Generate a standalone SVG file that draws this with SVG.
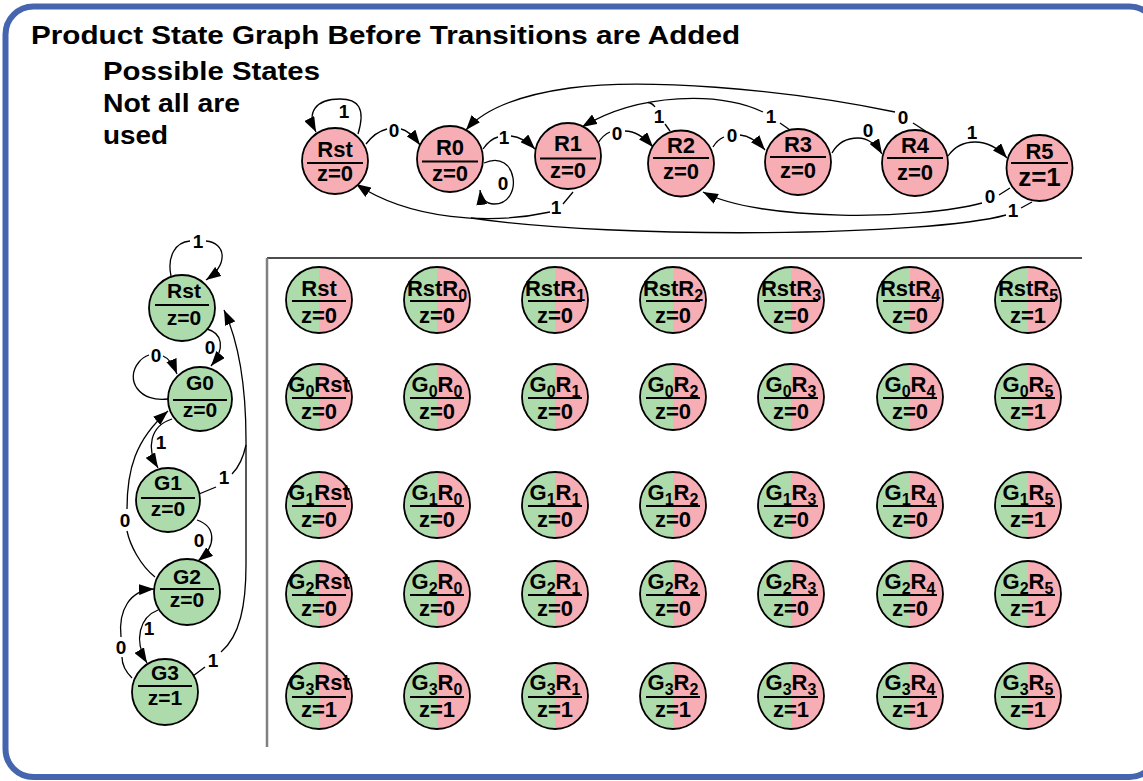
<svg xmlns="http://www.w3.org/2000/svg" width="1143" height="781" viewBox="0 0 1143 781">
  <defs>
    <marker id="ah" viewBox="0 0 15 11" refX="15" refY="5.5" markerWidth="15" markerHeight="11" markerUnits="userSpaceOnUse" orient="auto">
      <path d="M0,0 L15,5.5 L0,11 z" fill="#000"/>
    </marker>
    <linearGradient id="split" x1="0" y1="0" x2="1" y2="0">
      <stop offset="0.5" stop-color="#AEDBAB"/>
      <stop offset="0.5" stop-color="#F6AEB4"/>
    </linearGradient>
    <style>
      text { font-family: "Liberation Sans", Arial, Helvetica, sans-serif; font-weight: bold; fill: #000; }
      .hd { font-size: 25px; }
      .nl { font-size: 22px; text-anchor: middle; }
      .gl { font-size: 21px; text-anchor: middle; }
      .pl { font-size: 22px; text-anchor: middle; }
      .pz { font-size: 22px; text-anchor: middle; }
      .sb { font-size: 16px; }
      .el { font-size: 19px; text-anchor: middle; }
      .red { fill: #F6AEB4; stroke: #000; stroke-width: 1.8; }
      .grn { fill: #AEDBAB; stroke: #000; stroke-width: 1.8; }
      .prd { fill: url(#split); stroke: #000; stroke-width: 1.8; }
      .bar { stroke: #000; stroke-width: 2; }
      .edge { fill: none; stroke: #000; stroke-width: 1.3; }
      .arr { marker-end: url(#ah); }
    </style>
  </defs>

  <rect x="0" y="0" width="1143" height="781" fill="#fff"/>
  <!-- slide frame -->
  <rect x="5.5" y="6.5" width="1152" height="770.5" rx="28" fill="none" stroke="#4565AF" stroke-width="6"/>

  <!-- headings -->
  <text class="hd" x="31" y="44" textLength="709" lengthAdjust="spacingAndGlyphs">Product State Graph Before Transitions are Added</text>
  <text class="hd" x="103" y="80" textLength="217" lengthAdjust="spacingAndGlyphs">Possible States</text>
  <text class="hd" x="103" y="112" textLength="137" lengthAdjust="spacingAndGlyphs">Not all are</text>
  <text class="hd" x="103" y="144" textLength="65" lengthAdjust="spacingAndGlyphs">used</text>

  <!-- grid axes -->
  <line x1="267" y1="258" x2="1082" y2="258" stroke="#111" stroke-width="1.6"/>
  <line x1="267" y1="258" x2="267" y2="747" stroke="#808080" stroke-width="2.5"/>

  <!-- connectors -->
  <g id="connectors">
    <!-- R machine -->
    <path class="edge arr" d="M358,134 C366,108 358,99 340,99 C316,99 306,112 316,132"/>
    <path class="edge" d="M366,144 Q375,132 387,129"/>
    <path class="edge arr" d="M401,129 C408,130 414,137 420,145"/>
    <path class="edge arr" d="M484,163 C518,148 524,204 494,204 C486,204 481,198 480,190"/>
    <path class="edge" d="M483,149 Q490,139 498,137"/>
    <path class="edge arr" d="M511,136 C520,137 528,142 535,149"/>
    <path class="edge" d="M573,192 L563,204"/>
    <path class="edge arr" d="M550,212 C490,225 410,220 356,184"/>
    <path class="edge" d="M598,143 Q603,135 610,132"/>
    <path class="edge arr" d="M625,131 C635,131 645,138 653,147"/>
    <path class="edge" d="M670,131 L665,124"/>
    <path class="edge" d="M655,107 C653,104 651,103 648,102.5"/>
    <path class="edge" d="M790,130 L780,123"/>
    <path class="edge arr" d="M763,112 C720,92 640,92 582,127"/>
    <path class="edge" d="M713,147 Q717,140 724,137"/>
    <path class="edge arr" d="M740,135 C750,136 758,142 765,150"/>
    <path class="edge arr" d="M832,153 C838,142 848,138 858,138 C867,138 876,144 882,154"/>
    <path class="edge arr" d="M948,156 C955,146 965,142 975,142 C988,142 998,148 1007,158"/>
    <path class="edge" d="M927,132 L913,123"/>
    <path class="edge arr" d="M895,112 C780,88 640,78 570,88 C520,95 485,108 466,130"/>
    <path class="edge" d="M1010,188 L999,195"/>
    <path class="edge arr" d="M982,203 C920,220 760,222 703,192"/>
    <path class="edge" d="M1032,202 L1021,208"/>
    <path class="edge" d="M1006,215 C930,236 620,240 471,218"/>

    <text class="el" x="344" y="118">1</text>
    <text class="el" x="394" y="137">0</text>
    <text class="el" x="503" y="190">0</text>
    <text class="el" x="504" y="144">1</text>
    <text class="el" x="556" y="214">1</text>
    <text class="el" x="617" y="140">0</text>
    <text class="el" x="659" y="123">1</text>
    <text class="el" x="732" y="142">0</text>
    <text class="el" x="771" y="123">1</text>
    <text class="el" x="868" y="137">0</text>
    <text class="el" x="903" y="124">0</text>
    <text class="el" x="972" y="139">1</text>
    <text class="el" x="990" y="203">0</text>
    <text class="el" x="1013" y="217">1</text>

    <!-- G machine -->
    <path class="edge" d="M171,276 C167,257 175,242 190,241"/>
    <path class="edge arr" d="M206,241 C226,243 229,264 206,280"/>
    <path class="edge arr" d="M207,329 C222,333 226,348 211,366"/>
    <path class="edge" d="M168,399 C140,403 124,380 139,362 C142,358 146,356 149,355"/>
    <path class="edge arr" d="M163,356 C168,358 173,364 177,374"/>
    <path class="edge arr" d="M172,419 C150,426 146,448 158,468"/>
    <path class="edge" d="M155,577 C140,565 130,545 127,531"/>
    <path class="edge arr" d="M127,509 C127,470 135,440 168,411"/>
    <path class="edge" d="M199,494 L216,487"/>
    <path class="edge" d="M232,474 C238,468 243,459 246,445"/>
    <path class="edge" d="M193,676 L205,667"/>
    <path class="edge arr" d="M221,652 C240,636 246,605 246,565 L246,440 C246,390 240,345 224,310"/>
    <path class="edge arr" d="M197,520 C215,526 218,545 198,561"/>
    <path class="edge arr" d="M158,610 C140,617 133,640 147,663"/>
    <path class="edge" d="M132,678 C126,672 122,665 122,657"/>
    <path class="edge arr" d="M121,637 C118,610 130,590 154,589"/>

    <text class="el" x="198" y="248">1</text>
    <text class="el" x="210" y="354">0</text>
    <text class="el" x="156" y="362">0</text>
    <text class="el" x="161" y="449">1</text>
    <text class="el" x="125" y="527">0</text>
    <text class="el" x="224" y="484">1</text>
    <text class="el" x="213" y="667">1</text>
    <text class="el" x="199" y="547">0</text>
    <text class="el" x="149" y="635">1</text>
    <text class="el" x="121" y="654">0</text>
  </g>

  <!-- R machine states -->
  <g id="r-rst"><circle class="red" cx="335" cy="161" r="33"/><line class="bar" x1="307" y1="163" x2="363" y2="163"/><text class="nl" x="335" y="156.5">Rst</text><text class="nl" x="335" y="181">z=0</text></g>
  <g id="r-0"><circle class="red" cx="450" cy="159" r="33"/><line class="bar" x1="422" y1="161.5" x2="478" y2="161.5"/><text class="nl" x="450" y="154.5">R0</text><text class="nl" x="450" y="180.5">z=0</text></g>
  <g id="r-1"><circle class="red" cx="568" cy="156" r="33"/><line class="bar" x1="540" y1="158.5" x2="596" y2="158.5"/><text class="nl" x="568" y="151">R1</text><text class="nl" x="568" y="178">z=0</text></g>
  <g id="r-2"><circle class="red" cx="681" cy="163.5" r="33"/><line class="bar" x1="653" y1="158" x2="709" y2="158"/><text class="nl" x="681" y="153">R2</text><text class="nl" x="681" y="179">z=0</text></g>
  <g id="r-3"><circle class="red" cx="798" cy="162" r="33"/><line class="bar" x1="770" y1="157" x2="826" y2="157"/><text class="nl" x="798" y="152">R3</text><text class="nl" x="798" y="178">z=0</text></g>
  <g id="r-4"><circle class="red" cx="915" cy="163" r="33"/><line class="bar" x1="887" y1="158" x2="943" y2="158"/><text class="nl" x="915" y="153">R4</text><text class="nl" x="915" y="180">z=0</text></g>
  <g id="r-5"><circle class="red" cx="1039.5" cy="168" r="33"/><line class="bar" x1="1011" y1="163" x2="1068" y2="163"/><text class="nl" x="1039.5" y="159">R5</text><text class="nl" x="1039.5" y="186" style="font-size:26px">z=1</text></g>

  <!-- G machine states -->
  <g id="g-rst"><circle class="grn" cx="182" cy="308" r="33"/><line class="bar" x1="155" y1="305" x2="209" y2="305"/><text class="gl" x="184" y="298">Rst</text><text class="gl" x="184" y="325">z=0</text></g>
  <g id="g-0"><circle class="grn" cx="200" cy="399" r="32"/><line class="bar" x1="173" y1="400" x2="227" y2="400"/><text class="gl" x="200" y="390">G0</text><text class="gl" x="200" y="417">z=0</text></g>
  <g id="g-1"><circle class="grn" cx="168" cy="500" r="32"/><line class="bar" x1="141" y1="498" x2="195" y2="498"/><text class="gl" x="168" y="490">G1</text><text class="gl" x="168" y="516">z=0</text></g>
  <g id="g-2"><circle class="grn" cx="187" cy="592" r="33"/><line class="bar" x1="160" y1="589" x2="214" y2="589"/><text class="gl" x="187" y="584">G2</text><text class="gl" x="187" y="607">z=0</text></g>
  <g id="g-3"><circle class="grn" cx="165" cy="692" r="33"/><line class="bar" x1="138" y1="686" x2="192" y2="686"/><text class="gl" x="165" y="680">G3</text><text class="gl" x="165" y="705">z=1</text></g>

  <!-- product states: row Rst -->
  <g id="p-rst-rst"><circle class="prd" cx="319" cy="300" r="33"/><line class="bar" x1="292" y1="301" x2="346" y2="301"/><text class="pl" x="319" y="296">Rst</text><text class="pz" x="319" y="323">z=0</text></g>
  <g id="p-rst-r0"><circle class="prd" cx="437" cy="300" r="33"/><line class="bar" x1="410" y1="301" x2="464" y2="301"/><text class="pl" x="437" y="296">RstR<tspan class="sb" dy="5">0</tspan></text><text class="pz" x="437" y="323">z=0</text></g>
  <g id="p-rst-r1"><circle class="prd" cx="555" cy="300" r="33"/><line class="bar" x1="528" y1="301" x2="582" y2="301"/><text class="pl" x="555" y="296">RstR<tspan class="sb" dy="5">1</tspan></text><text class="pz" x="555" y="323">z=0</text></g>
  <g id="p-rst-r2"><circle class="prd" cx="673" cy="300" r="33"/><line class="bar" x1="646" y1="301" x2="700" y2="301"/><text class="pl" x="673" y="296">RstR<tspan class="sb" dy="5">2</tspan></text><text class="pz" x="673" y="323">z=0</text></g>
  <g id="p-rst-r3"><circle class="prd" cx="791" cy="300" r="33"/><line class="bar" x1="764" y1="301" x2="818" y2="301"/><text class="pl" x="791" y="296">RstR<tspan class="sb" dy="5">3</tspan></text><text class="pz" x="791" y="323">z=0</text></g>
  <g id="p-rst-r4"><circle class="prd" cx="910" cy="300" r="33"/><line class="bar" x1="883" y1="301" x2="937" y2="301"/><text class="pl" x="910" y="296">RstR<tspan class="sb" dy="5">4</tspan></text><text class="pz" x="910" y="323">z=0</text></g>
  <g id="p-rst-r5"><circle class="prd" cx="1028" cy="300" r="33"/><line class="bar" x1="1001" y1="301" x2="1055" y2="301"/><text class="pl" x="1028" y="296">RstR<tspan class="sb" dy="5">5</tspan></text><text class="pz" x="1028" y="323">z=1</text></g>

  <!-- row G0 -->
  <g id="p-g0-rst"><circle class="prd" cx="319" cy="397" r="33"/><line class="bar" x1="292" y1="398" x2="346" y2="398"/><text class="pl" x="319" y="392">G<tspan class="sb" dy="5">0</tspan><tspan dy="-5">Rst</tspan></text><text class="pz" x="319" y="419">z=0</text></g>
  <g id="p-g0-r0"><circle class="prd" cx="437" cy="397" r="33"/><line class="bar" x1="410" y1="398" x2="464" y2="398"/><text class="pl" x="437" y="392">G<tspan class="sb" dy="5">0</tspan><tspan dy="-5">R</tspan><tspan class="sb" dy="5">0</tspan></text><text class="pz" x="437" y="419">z=0</text></g>
  <g id="p-g0-r1"><circle class="prd" cx="555" cy="397" r="33"/><line class="bar" x1="528" y1="398" x2="582" y2="398"/><text class="pl" x="555" y="392">G<tspan class="sb" dy="5">0</tspan><tspan dy="-5">R</tspan><tspan class="sb" dy="5">1</tspan></text><text class="pz" x="555" y="419">z=0</text></g>
  <g id="p-g0-r2"><circle class="prd" cx="673" cy="397" r="33"/><line class="bar" x1="646" y1="398" x2="700" y2="398"/><text class="pl" x="673" y="392">G<tspan class="sb" dy="5">0</tspan><tspan dy="-5">R</tspan><tspan class="sb" dy="5">2</tspan></text><text class="pz" x="673" y="419">z=0</text></g>
  <g id="p-g0-r3"><circle class="prd" cx="791" cy="397" r="33"/><line class="bar" x1="764" y1="398" x2="818" y2="398"/><text class="pl" x="791" y="392">G<tspan class="sb" dy="5">0</tspan><tspan dy="-5">R</tspan><tspan class="sb" dy="5">3</tspan></text><text class="pz" x="791" y="419">z=0</text></g>
  <g id="p-g0-r4"><circle class="prd" cx="910" cy="397" r="33"/><line class="bar" x1="883" y1="398" x2="937" y2="398"/><text class="pl" x="910" y="392">G<tspan class="sb" dy="5">0</tspan><tspan dy="-5">R</tspan><tspan class="sb" dy="5">4</tspan></text><text class="pz" x="910" y="419">z=0</text></g>
  <g id="p-g0-r5"><circle class="prd" cx="1028" cy="397" r="33"/><line class="bar" x1="1001" y1="398" x2="1055" y2="398"/><text class="pl" x="1028" y="392">G<tspan class="sb" dy="5">0</tspan><tspan dy="-5">R</tspan><tspan class="sb" dy="5">5</tspan></text><text class="pz" x="1028" y="419">z=1</text></g>

  <!-- row G1 -->
  <g id="p-g1-rst"><circle class="prd" cx="319" cy="505" r="33"/><line class="bar" x1="292" y1="506" x2="346" y2="506"/><text class="pl" x="319" y="500">G<tspan class="sb" dy="5">1</tspan><tspan dy="-5">Rst</tspan></text><text class="pz" x="319" y="527">z=0</text></g>
  <g id="p-g1-r0"><circle class="prd" cx="437" cy="505" r="33"/><line class="bar" x1="410" y1="506" x2="464" y2="506"/><text class="pl" x="437" y="500">G<tspan class="sb" dy="5">1</tspan><tspan dy="-5">R</tspan><tspan class="sb" dy="5">0</tspan></text><text class="pz" x="437" y="527">z=0</text></g>
  <g id="p-g1-r1"><circle class="prd" cx="555" cy="505" r="33"/><line class="bar" x1="528" y1="506" x2="582" y2="506"/><text class="pl" x="555" y="500">G<tspan class="sb" dy="5">1</tspan><tspan dy="-5">R</tspan><tspan class="sb" dy="5">1</tspan></text><text class="pz" x="555" y="527">z=0</text></g>
  <g id="p-g1-r2"><circle class="prd" cx="673" cy="505" r="33"/><line class="bar" x1="646" y1="506" x2="700" y2="506"/><text class="pl" x="673" y="500">G<tspan class="sb" dy="5">1</tspan><tspan dy="-5">R</tspan><tspan class="sb" dy="5">2</tspan></text><text class="pz" x="673" y="527">z=0</text></g>
  <g id="p-g1-r3"><circle class="prd" cx="791" cy="505" r="33"/><line class="bar" x1="764" y1="506" x2="818" y2="506"/><text class="pl" x="791" y="500">G<tspan class="sb" dy="5">1</tspan><tspan dy="-5">R</tspan><tspan class="sb" dy="5">3</tspan></text><text class="pz" x="791" y="527">z=0</text></g>
  <g id="p-g1-r4"><circle class="prd" cx="910" cy="505" r="33"/><line class="bar" x1="883" y1="506" x2="937" y2="506"/><text class="pl" x="910" y="500">G<tspan class="sb" dy="5">1</tspan><tspan dy="-5">R</tspan><tspan class="sb" dy="5">4</tspan></text><text class="pz" x="910" y="527">z=0</text></g>
  <g id="p-g1-r5"><circle class="prd" cx="1028" cy="505" r="33"/><line class="bar" x1="1001" y1="506" x2="1055" y2="506"/><text class="pl" x="1028" y="500">G<tspan class="sb" dy="5">1</tspan><tspan dy="-5">R</tspan><tspan class="sb" dy="5">5</tspan></text><text class="pz" x="1028" y="527">z=1</text></g>

  <!-- row G2 -->
  <g id="p-g2-rst"><circle class="prd" cx="319" cy="594" r="33"/><line class="bar" x1="292" y1="595" x2="346" y2="595"/><text class="pl" x="319" y="589">G<tspan class="sb" dy="5">2</tspan><tspan dy="-5">Rst</tspan></text><text class="pz" x="319" y="616">z=0</text></g>
  <g id="p-g2-r0"><circle class="prd" cx="437" cy="594" r="33"/><line class="bar" x1="410" y1="595" x2="464" y2="595"/><text class="pl" x="437" y="589">G<tspan class="sb" dy="5">2</tspan><tspan dy="-5">R</tspan><tspan class="sb" dy="5">0</tspan></text><text class="pz" x="437" y="616">z=0</text></g>
  <g id="p-g2-r1"><circle class="prd" cx="555" cy="594" r="33"/><line class="bar" x1="528" y1="595" x2="582" y2="595"/><text class="pl" x="555" y="589">G<tspan class="sb" dy="5">2</tspan><tspan dy="-5">R</tspan><tspan class="sb" dy="5">1</tspan></text><text class="pz" x="555" y="616">z=0</text></g>
  <g id="p-g2-r2"><circle class="prd" cx="673" cy="594" r="33"/><line class="bar" x1="646" y1="595" x2="700" y2="595"/><text class="pl" x="673" y="589">G<tspan class="sb" dy="5">2</tspan><tspan dy="-5">R</tspan><tspan class="sb" dy="5">2</tspan></text><text class="pz" x="673" y="616">z=0</text></g>
  <g id="p-g2-r3"><circle class="prd" cx="791" cy="594" r="33"/><line class="bar" x1="764" y1="595" x2="818" y2="595"/><text class="pl" x="791" y="589">G<tspan class="sb" dy="5">2</tspan><tspan dy="-5">R</tspan><tspan class="sb" dy="5">3</tspan></text><text class="pz" x="791" y="616">z=0</text></g>
  <g id="p-g2-r4"><circle class="prd" cx="910" cy="594" r="33"/><line class="bar" x1="883" y1="595" x2="937" y2="595"/><text class="pl" x="910" y="589">G<tspan class="sb" dy="5">2</tspan><tspan dy="-5">R</tspan><tspan class="sb" dy="5">4</tspan></text><text class="pz" x="910" y="616">z=0</text></g>
  <g id="p-g2-r5"><circle class="prd" cx="1028" cy="594" r="33"/><line class="bar" x1="1001" y1="595" x2="1055" y2="595"/><text class="pl" x="1028" y="589">G<tspan class="sb" dy="5">2</tspan><tspan dy="-5">R</tspan><tspan class="sb" dy="5">5</tspan></text><text class="pz" x="1028" y="616">z=1</text></g>

  <!-- row G3 -->
  <g id="p-g3-rst"><circle class="prd" cx="319" cy="696" r="33"/><line class="bar" x1="292" y1="697" x2="346" y2="697"/><text class="pl" x="319" y="690">G<tspan class="sb" dy="5">3</tspan><tspan dy="-5">Rst</tspan></text><text class="pz" x="319" y="717">z=1</text></g>
  <g id="p-g3-r0"><circle class="prd" cx="437" cy="696" r="33"/><line class="bar" x1="410" y1="697" x2="464" y2="697"/><text class="pl" x="437" y="690">G<tspan class="sb" dy="5">3</tspan><tspan dy="-5">R</tspan><tspan class="sb" dy="5">0</tspan></text><text class="pz" x="437" y="717">z=1</text></g>
  <g id="p-g3-r1"><circle class="prd" cx="555" cy="696" r="33"/><line class="bar" x1="528" y1="697" x2="582" y2="697"/><text class="pl" x="555" y="690">G<tspan class="sb" dy="5">3</tspan><tspan dy="-5">R</tspan><tspan class="sb" dy="5">1</tspan></text><text class="pz" x="555" y="717">z=1</text></g>
  <g id="p-g3-r2"><circle class="prd" cx="673" cy="696" r="33"/><line class="bar" x1="646" y1="697" x2="700" y2="697"/><text class="pl" x="673" y="690">G<tspan class="sb" dy="5">3</tspan><tspan dy="-5">R</tspan><tspan class="sb" dy="5">2</tspan></text><text class="pz" x="673" y="717">z=1</text></g>
  <g id="p-g3-r3"><circle class="prd" cx="791" cy="696" r="33"/><line class="bar" x1="764" y1="697" x2="818" y2="697"/><text class="pl" x="791" y="690">G<tspan class="sb" dy="5">3</tspan><tspan dy="-5">R</tspan><tspan class="sb" dy="5">3</tspan></text><text class="pz" x="791" y="717">z=1</text></g>
  <g id="p-g3-r4"><circle class="prd" cx="910" cy="696" r="33"/><line class="bar" x1="883" y1="697" x2="937" y2="697"/><text class="pl" x="910" y="690">G<tspan class="sb" dy="5">3</tspan><tspan dy="-5">R</tspan><tspan class="sb" dy="5">4</tspan></text><text class="pz" x="910" y="717">z=1</text></g>
  <g id="p-g3-r5"><circle class="prd" cx="1028" cy="696" r="33"/><line class="bar" x1="1001" y1="697" x2="1055" y2="697"/><text class="pl" x="1028" y="690">G<tspan class="sb" dy="5">3</tspan><tspan dy="-5">R</tspan><tspan class="sb" dy="5">5</tspan></text><text class="pz" x="1028" y="717">z=1</text></g>
</svg>
